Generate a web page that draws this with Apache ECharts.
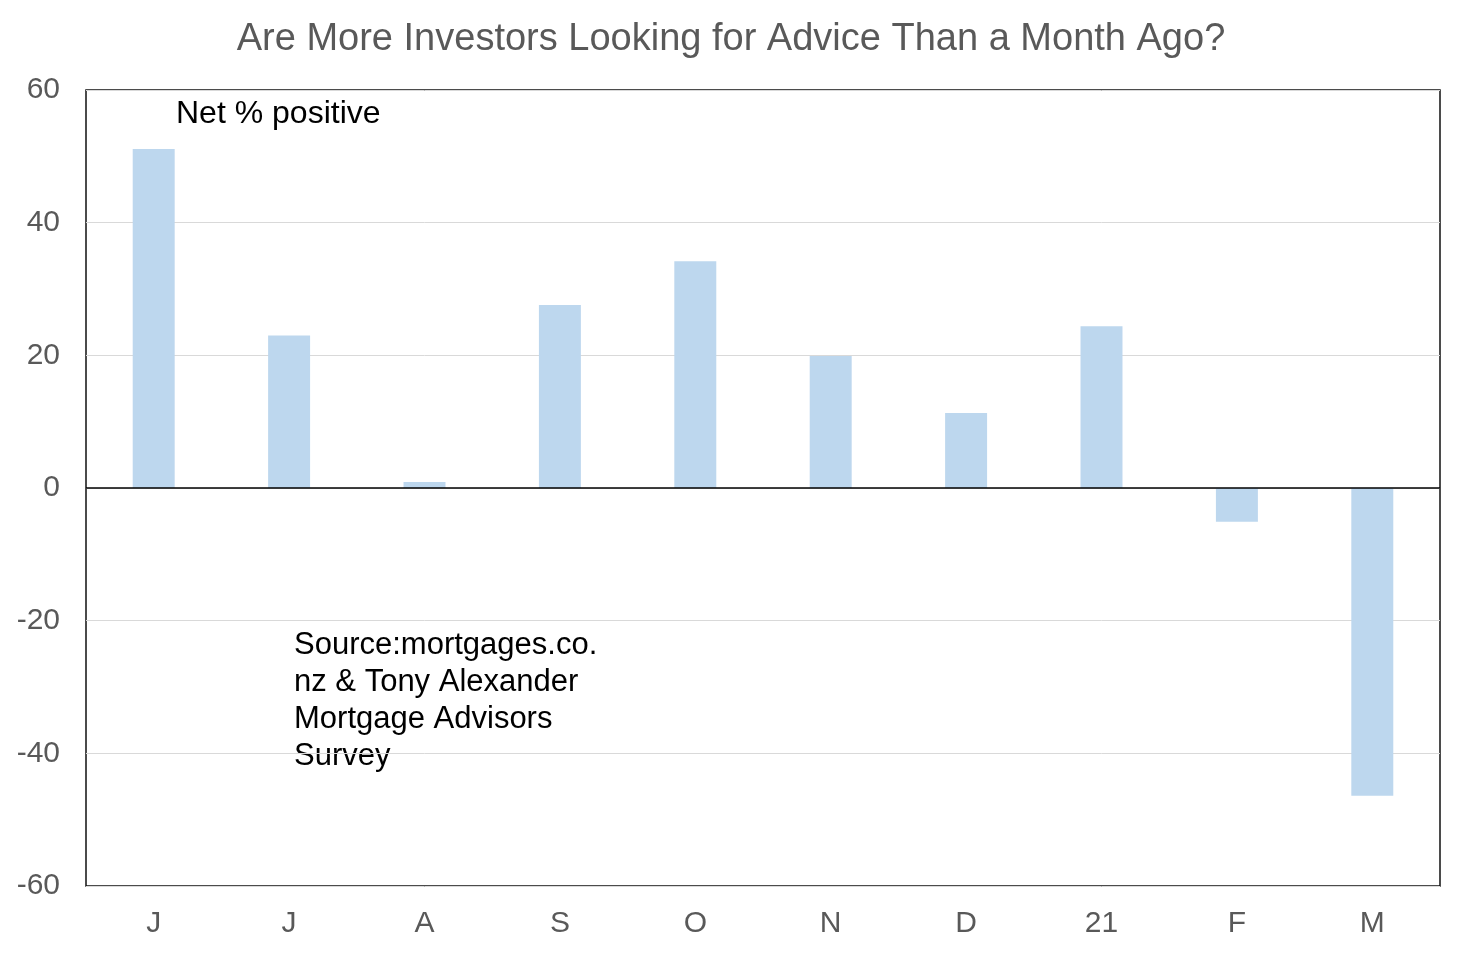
<!DOCTYPE html>
<html>
<head>
<meta charset="utf-8">
<title>Investors looking for advice</title>
<script src="https://cdn.jsdelivr.net/npm/echarts@6/dist/echarts.min.js"></script>
<style>
  html, body { margin: 0; padding: 0; background: #fff; }
  #chart { width: 1462px; height: 954px; }
</style>
</head>
<body>
<div id="chart"></div>
<script>
// Chart data
const months = ['J', 'J', 'A', 'S', 'O', 'N', 'D', '21', 'F', 'M'];
const netPositive = [51.1, 23, 0.9, 27.6, 34.2, 19.9, 11.3, 24.4, -5.1, -46.4];
const yTicks = [-60, -40, -20, 0, 20, 40, 60];

const chart = echarts.init(document.getElementById('chart'));

const labelFont = 'Liberation Sans, Arial, sans-serif';

const option = {
    backgroundColor: '#ffffff',
    animation: false,
    title: {
        text: 'Are More Investors Looking for Advice Than a Month Ago?',
        left: 'center',
        top: 16,
        textStyle: {
            fontFamily: labelFont,
            fontSize: 38,
            fontWeight: 'normal',
            color: '#595959'
        }
    },
    grid: {
        left: 86,
        right: 22,
        top: 90,
        bottom: 68,
        show: true,
        borderColor: '#111111',
        borderWidth: 1.5,
        backgroundColor: 'transparent'
    },
    xAxis: {
        type: 'category',
        data: months,
        axisLine: { show: false },
        axisTick: { show: false },
        axisLabel: {
            fontFamily: labelFont,
            fontSize: 30,
            color: '#595959',
            margin: 23
        }
    },
    yAxis: {
        type: 'value',
        min: yTicks[0],
        max: yTicks[yTicks.length - 1],
        interval: 20,
        axisLine: { show: false },
        axisTick: { show: false },
        axisLabel: {
            fontFamily: labelFont,
            fontSize: 30,
            color: '#595959',
            margin: 26
        },
        splitLine: {
            lineStyle: { color: '#d9d9d9', width: 1 }
        }
    },
    series: [{
        type: 'bar',
        data: netPositive,
        barWidth: '31%',
        itemStyle: { color: '#bdd7ee' },
        markLine: {
            silent: true,
            symbol: 'none',
            label: { show: false },
            lineStyle: { color: '#000000', width: 1.5, type: 'solid' },
            data: [{ yAxis: 0 }]
        }
    }],
    graphic: [
        {
            type: 'text',
            left: 176,
            top: 98,
            style: {
                text: 'Net % positive',
                font: '32px ' + labelFont,
                fill: '#000000'
            }
        },
        {
            type: 'text',
            left: 294,
            top: 627,
            style: {
                text: 'Source:mortgages.co.\nnz & Tony Alexander\nMortgage Advisors\nSurvey',
                font: '31px ' + labelFont,
                lineHeight: 37,
                fill: '#000000'
            }
        }
    ]
};

chart.setOption(option);

window.addEventListener('resize', () => {
    chart.resize();
});
</script>
</body>
</html>
